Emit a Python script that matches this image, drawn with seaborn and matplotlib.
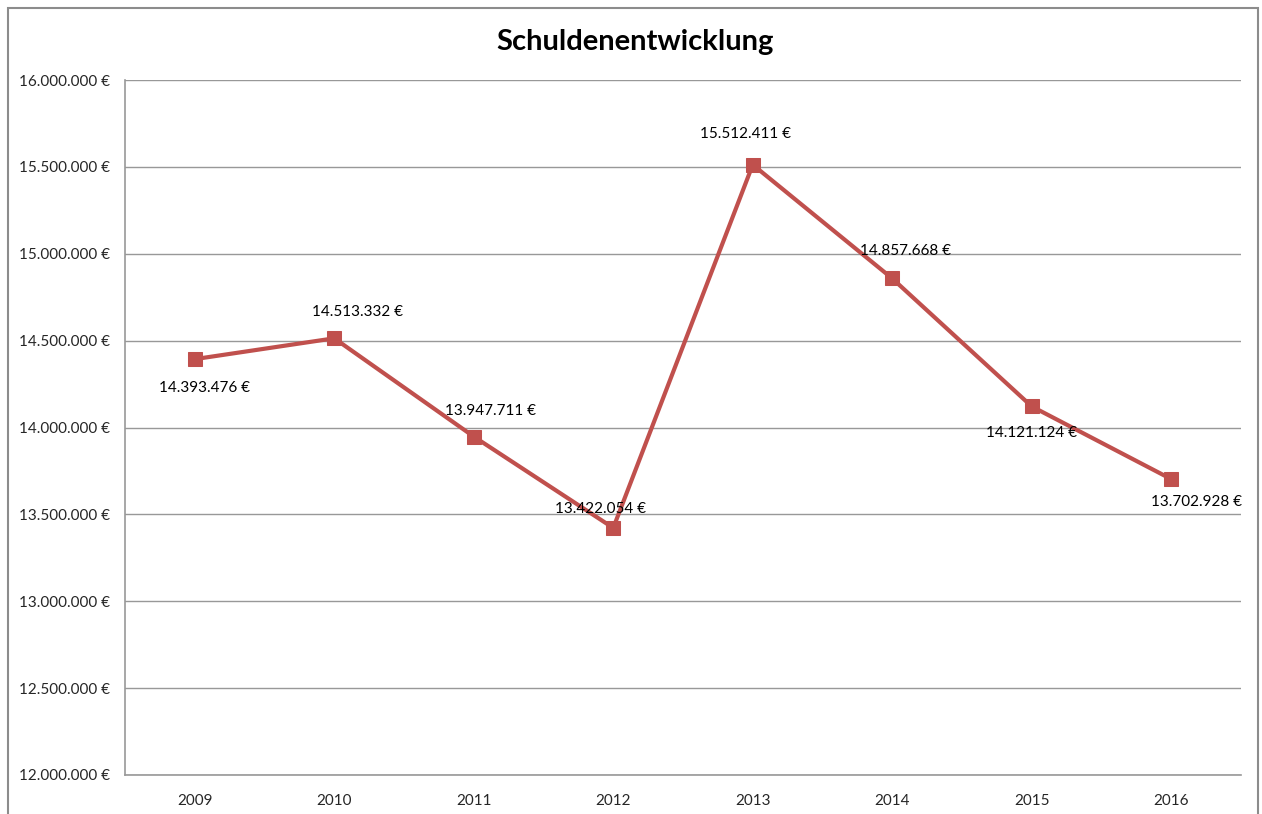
import matplotlib
matplotlib.use("Agg")
import matplotlib.pyplot as plt
import matplotlib.ticker as mticker
from matplotlib.patches import Rectangle
import numpy as np
import pandas as pd
import seaborn as sns

sns.set_style("white")
plt.rcParams["font.family"] = ["Lato", "DejaVu Sans"]

YEARS = ["2009", "2010", "2011", "2012", "2013", "2014", "2015", "2016"]
DEBT = [14393476, 14513332, 13947711, 13422054, 15512411, 14857668, 14121124, 13702928]
# label offsets in pixels (dx, dy) relative to each point
LABEL_OFFSETS = [(10, -29), (23, 26), (17, 26), (-13, 19), (-7, 31), (13, 27), (0, -27), (25, -23)]

LINE_COLOR = "#C0504D"
GRID_COLOR = "#989898"


def euro(v, pos=None):
    return f"{int(round(v)):,}".replace(",", ".") + " €"


df = pd.DataFrame({"year": YEARS, "debt": DEBT})

fig = plt.figure(figsize=(12.62, 8.14), dpi=100)
ax = fig.add_axes([125 / 1262, 1 - 775 / 814, (1241 - 125) / 1262, (775 - 80) / 814])

sns.lineplot(data=df, x="year", y="debt", ax=ax, color=LINE_COLOR, linewidth=3,
             marker="s", markersize=10, markeredgecolor=LINE_COLOR, sort=False)

ax.set_xlim(-0.5, 7.5)
ax.set_ylim(12000000, 16000000)
ax.yaxis.set_major_locator(mticker.MultipleLocator(500000))
ax.yaxis.set_major_formatter(mticker.FuncFormatter(euro))
ax.set_xticks(range(len(YEARS)))
ax.set_xticklabels(YEARS)
ax.set_xticks(np.arange(-0.5, len(YEARS), 1.0), minor=True)
ax.tick_params(axis="x", which="major", length=0, pad=14, labelsize=11)
ax.tick_params(axis="x", which="minor", length=6, width=1, color=GRID_COLOR, direction="out")
ax.tick_params(axis="y", length=7, width=1, color=GRID_COLOR, direction="out", pad=4, labelsize=11)
ax.grid(axis="y", color=GRID_COLOR, linewidth=1)
ax.set_axisbelow(True)
for s in ["top", "right"]:
    ax.spines[s].set_visible(False)
for s in ["left", "bottom"]:
    ax.spines[s].set_color(GRID_COLOR)
    ax.spines[s].set_linewidth(1.2)
ax.set_xlabel("")
ax.set_ylabel("")

for i, (v, (dx, dy)) in enumerate(zip(DEBT, LABEL_OFFSETS)):
    ax.annotate(euro(v), (i, v), xytext=(dx, dy), textcoords="offset pixels",
                ha="center", va="center", fontsize=11, color="black")

fig.text(635 / 1262, 1 - 42 / 814, "Schuldenentwicklung", ha="center", va="center",
         fontsize=21, fontweight="bold", color="black")

fig.patches.append(Rectangle((8 / 1262, -0.05), (1258 - 8) / 1262, 1.05 - 8 / 814,
                             transform=fig.transFigure, fill=False,
                             edgecolor="#8c8c8c", linewidth=1.5))

fig.savefig("out.png", dpi=100)
